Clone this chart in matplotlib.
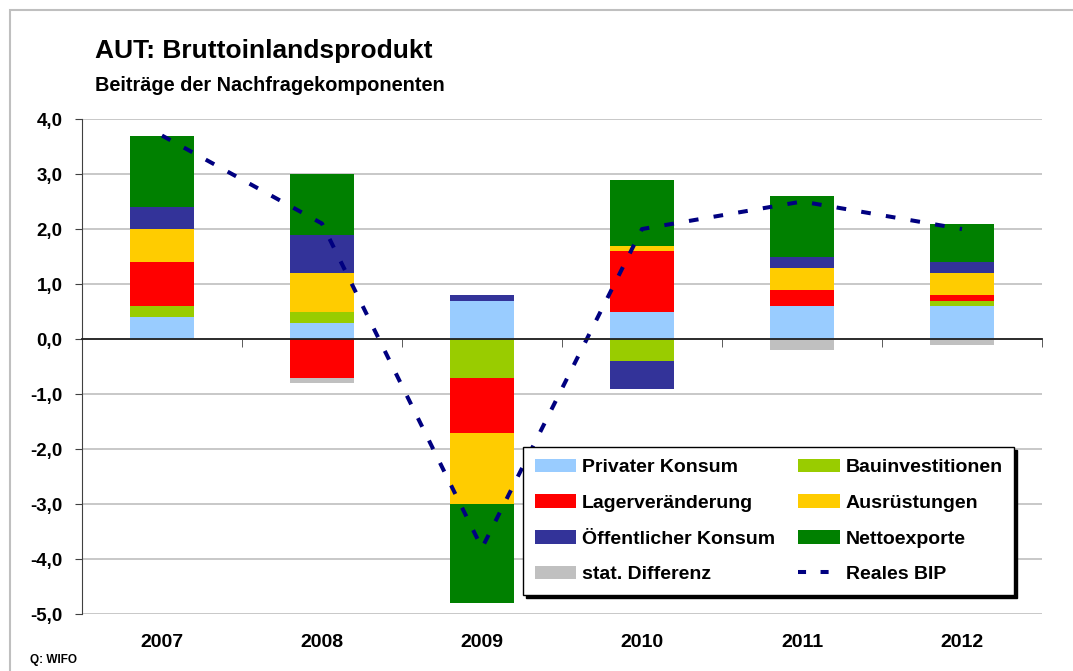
import numpy as np
import matplotlib
matplotlib.use("Agg")
import matplotlib.pyplot as plt
from matplotlib.patches import Patch, Rectangle
from matplotlib.lines import Line2D
import matplotlib.transforms as mtransforms

plt.rcParams['font.family'] = ['Liberation Sans', 'DejaVu Sans']
plt.rcParams['font.weight'] = 'bold'

jahre = ['2007', '2008', '2009', '2010', '2011', '2012']

privater_konsum = [0.4, 0.3, 0.7, 0.5, 0.6, 0.6]
bauinvestitionen = [0.2, 0.2, -0.7, -0.4, 0.0, 0.1]
lagerveraenderung = [0.8, -0.7, -1.0, 1.1, 0.3, 0.1]
ausruestungen = [0.6, 0.7, -1.3, 0.1, 0.4, 0.4]
oeff_konsum = [0.4, 0.7, 0.1, -0.5, 0.2, 0.2]
nettoexporte = [1.3, 1.1, -1.8, 1.2, 1.1, 0.7]
stat_differenz = [0.0, -0.1, 0.0, 0.0, -0.2, -0.1]
reales_bip = [3.7, 2.1, -3.8, 2.0, 2.5, 2.0]

serien = [
    ('Privater Konsum', privater_konsum, '#99CCFF'),
    ('Bauinvestitionen', bauinvestitionen, '#99CC00'),
    ('Lagerveränderung', lagerveraenderung, '#FF0000'),
    ('Ausrüstungen', ausruestungen, '#FFCC00'),
    ('Öffentlicher Konsum', oeff_konsum, '#333399'),
    ('Nettoexporte', nettoexporte, '#008000'),
    ('stat. Differenz', stat_differenz, '#C0C0C0'),
]

fig = plt.figure(figsize=(10.73, 6.71), dpi=100)
ax = fig.add_axes([0.0764, 0.0849, 0.8947, 0.7377])

x = np.arange(len(jahre))
pos_base = np.zeros(len(jahre))
neg_base = np.zeros(len(jahre))
handles = {}
for name, werte, farbe in serien:
    w = np.array(werte)
    bottom = np.where(w >= 0, pos_base, neg_base)
    ax.bar(x, w, 0.4, bottom=bottom, color=farbe, zorder=2)
    pos_base = pos_base + np.clip(w, 0, None)
    neg_base = neg_base + np.clip(w, None, 0)
    handles[name] = Patch(facecolor=farbe)

ax.plot(x, reales_bip, color='#000080', lw=2.9, linestyle=(0, (2.4, 3.8)),
        zorder=3)
handles['Reales BIP'] = Line2D([], [], color='#000080', lw=2.9,
                               linestyle=(0, (2.0, 3.6)))

ax.set_xlim(-0.5, len(jahre) - 0.5)
ax.set_ylim(-5, 4)
ax.set_yticks(np.arange(-5, 5, 1))
ax.set_yticklabels([f"{v:.1f}".replace('.', ',') for v in np.arange(-5, 5, 1)],
                   fontsize=13.5, fontweight='bold')
ax.grid(axis='y', color='#BFBFBF', lw=1.2, zorder=0)
ax.set_axisbelow(True)

for s in ['top', 'right']:
    ax.spines[s].set_visible(False)
ax.spines['left'].set_color('#404040')
ax.spines['bottom'].set_position(('data', 0))
ax.spines['bottom'].set_color('#202020')
ax.spines['bottom'].set_linewidth(1.3)
ax.spines['bottom'].set_zorder(4)
ax.tick_params(axis='y', length=5, color='#404040', pad=9)
ax.set_xticks(x)
ax.set_xticklabels([])
ax.tick_params(axis='x', which='major', length=0)
ax.set_xticks(np.arange(len(jahre) + 1) - 0.5, minor=True)
ax.tick_params(axis='x', which='minor', length=6, color='#404040', direction='out')

trans = mtransforms.blended_transform_factory(ax.transData, ax.transAxes)
for xi, j in zip(x, jahre):
    ax.text(xi, -0.057, j, transform=trans, ha='center', va='center',
            fontsize=14, fontweight='bold')

fig.text(0.0885, 0.924, 'AUT: Bruttoinlandsprodukt', fontsize=19,
         fontweight='bold', ha='left', va='center')
fig.text(0.0885, 0.873, 'Beiträge der Nachfragekomponenten', fontsize=14.3,
         fontweight='bold', ha='left', va='center')
fig.text(0.028, 0.016, 'Q: WIFO', fontsize=8.5, fontweight='bold',
         ha='left', va='center')

fig.patches.append(Rectangle((10 / 1073, -0.1), 1.2, 1 - 10 / 671 + 0.1,
                             transform=fig.transFigure, fill=False,
                             edgecolor='#BFBFBF', lw=1.5))

order = ['Privater Konsum', 'Lagerveränderung', 'Öffentlicher Konsum',
         'stat. Differenz', 'Bauinvestitionen', 'Ausrüstungen',
         'Nettoexporte', 'Reales BIP']
leg = fig.legend([handles[k] for k in order], order, ncol=2,
                 loc='upper left', bbox_to_anchor=(0.4874, 0.334),
                 borderaxespad=0, frameon=True, fancybox=False,
                 edgecolor='black', framealpha=1,
                 shadow={'color': 'black', 'alpha': 1},
                 handlelength=2.15, handleheight=0.7, handletextpad=0.28,
                 labelspacing=0.93, columnspacing=1.2, borderpad=0.6,
                 prop={'weight': 'bold', 'size': 14})
leg.get_frame().set_linewidth(1.0)

fig.savefig('out.png', dpi=100)
